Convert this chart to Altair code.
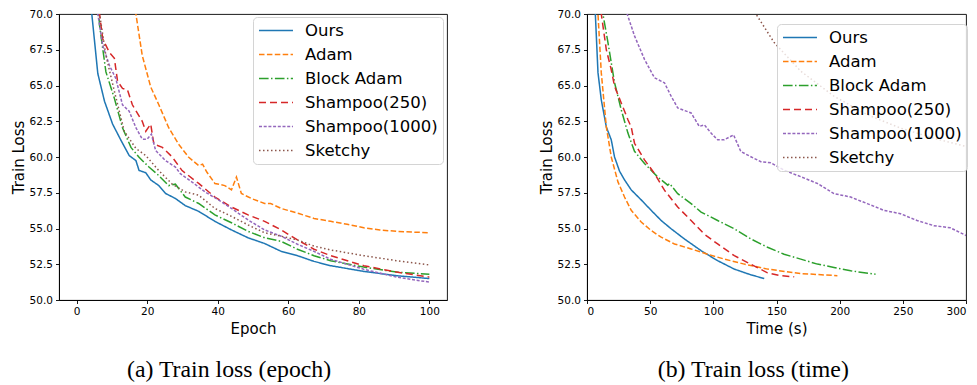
import altair as alt
import pandas as pd

methods = ["Ours", "Adam", "Block Adam", "Shampoo(250)", "Shampoo(1000)", "Sketchy"]
colors = ["#1f77b4", "#ff7f0e", "#2ca02c", "#d62728", "#9467bd", "#8c564b"]
dashes = [[1, 0], [5.5, 2.4], [9.6, 2.4, 1.5, 2.4], [7, 4], [3, 1.7], [1.5, 2.5]]

# ---------------- Panel (a): train loss vs epoch ----------------
ep_ours = [3, 4.3, 6.0, 7.9, 10.2, 12.5, 14.9, 16.8, 17.7, 19.6, 21, 23.3, 25.2, 28, 30.8, 34.6, 39.2, 43.9, 48.6, 53.3, 58, 62.6, 67.3, 72, 81.4, 90.7, 100]
ls_ours = [76, 70, 65.84, 63.9, 62.3, 61.2, 60.1, 59.75, 59.06, 58.9, 58.4, 58.0, 57.45, 57.1, 56.6, 56.2, 55.5, 54.9, 54.35, 53.95, 53.4, 53.1, 52.7, 52.4, 52.0, 51.7, 51.5]

ep_adam = [15, 16.8, 18.6, 21, 23.3, 26.1, 28.9, 31.7, 34.6, 35.7, 36.9, 39.2, 42, 43.9, 45.3, 46.7, 49.5, 53.3, 55, 58, 60.8, 63, 67.3, 72, 76.7, 81.4, 86, 90.7, 100]
ls_adam = [73, 70, 67.1, 64.9, 63.65, 62.05, 60.9, 60.0, 59.4, 59.5, 58.95, 58.15, 58.0, 57.7, 58.6, 57.45, 57.1, 56.75, 56.75, 56.4, 56.2, 56.05, 55.7, 55.5, 55.3, 55.05, 54.9, 54.8, 54.7]

ep_block = [5.5, 6.5, 8.3, 10.7, 13, 15.4, 17.7, 20.5, 23.3, 26.1, 28, 30.8, 34.6, 39.2, 43.9, 48.6, 53.3, 58, 62.6, 67.3, 72, 81.4, 90.7, 100]
ls_block = [73, 69.2, 65.95, 64.1, 62.05, 60.67, 59.98, 59.3, 58.7, 58.0, 58.1, 57.2, 56.75, 55.95, 55.4, 54.8, 54.35, 54.1, 53.55, 53.1, 52.75, 52.3, 51.95, 51.8]

ep_sh250 = [5.5, 6.5, 7.4, 9.3, 10.7, 11.6, 13, 14.4, 15.8, 18.6, 19.6, 21, 21.9, 24.3, 27.1, 29.9, 34.6, 39.2, 43.9, 48.6, 53.3, 58, 62.6, 67.3, 72, 81.4, 90.7, 100]
ls_sh250 = [74, 70, 68.25, 67.3, 66.9, 65.3, 64.8, 64.7, 63.65, 62.5, 61.8, 62.3, 60.9, 60.67, 60.0, 59.05, 58.15, 57.2, 56.5, 55.95, 55.5, 54.9, 54.2, 53.55, 53.1, 52.4, 51.95, 51.6]

ep_sh1000 = [5, 6, 7.4, 9.3, 11.1, 13, 14.9, 16.8, 18.6, 20, 21.2, 22.4, 25.2, 28, 29.4, 32.7, 36.4, 40.2, 43.9, 48.6, 53.3, 58, 62.6, 67.3, 72, 81.4, 90.7, 100]
ls_sh1000 = [74, 70, 67.8, 66.4, 65.5, 63.65, 63.2, 62.05, 61.25, 61.25, 61.6, 60.45, 59.75, 59.3, 58.83, 58.25, 57.56, 57.0, 56.4, 55.6, 54.9, 54.46, 53.9, 53.4, 52.85, 52.15, 51.6, 51.25]

ep_sketchy = [5.5, 6.5, 8.3, 10.7, 13.5, 16.8, 19.6, 23.3, 27.1, 30.8, 34.6, 39.2, 43.9, 48.6, 53.3, 58, 62.6, 67.3, 72, 81.4, 90.7, 100]
ls_sketchy = [74, 70, 67.1, 64.6, 61.8, 60.6, 60.1, 59.05, 58.1, 57.56, 57.33, 56.4, 55.85, 55.25, 54.7, 54.46, 54.2, 53.77, 53.5, 53.1, 52.75, 52.45]

# ---------------- Panel (b): train loss vs wall-clock time ----------------
t_ours = [5, 6.6, 8.7, 11.3, 15.3, 19.2, 21.8, 25.8, 29.7, 35, 42.9, 50.8, 58.7, 66.6, 77.1, 90.3, 103.4, 116.6, 129.7, 140.3]
lt_ours = [76, 70, 65.9, 64.0, 62.1, 61.2, 60.0, 59.0, 58.4, 57.7, 57.0, 56.27, 55.56, 54.98, 54.27, 53.45, 52.75, 52.16, 51.76, 51.5]

t_adam = [7, 8.7, 11.3, 15.3, 19.2, 24.5, 29.7, 35, 42.9, 50.8, 58.7, 69.2, 82.4, 95.5, 108.7, 124.5, 142.9, 169.2, 198.2]
lt_adam = [76, 70, 65.9, 62.1, 60.0, 58.26, 57.2, 56.27, 55.45, 54.86, 54.39, 53.92, 53.57, 53.2, 52.86, 52.51, 52.16, 51.85, 51.7]

t_block = [11, 12.6, 16.6, 21.8, 27.1, 32.4, 37.6, 45.5, 56, 63.9, 65.3, 71.8, 82.4, 90.3, 103.4, 116.6, 129.7, 142.9, 156, 169.2, 182.4, 195.5, 208.7, 228.4]
lt_block = [74, 70, 68.0, 65.2, 63.3, 61.67, 60.4, 59.55, 58.6, 58.03, 58.15, 57.44, 56.74, 56.15, 55.56, 54.98, 54.27, 53.69, 53.2, 52.86, 52.51, 52.28, 52.04, 51.8]

t_sh250 = [10, 11.3, 15.3, 19.2, 21.8, 27.1, 32.4, 35, 37.6, 45.5, 53.4, 61.3, 71.8, 82.4, 92.9, 103.4, 116.6, 129.7, 142.9, 153.4, 164]
lt_sh250 = [74, 70, 67.5, 66.1, 64.95, 63.78, 62.6, 62.1, 60.96, 59.8, 58.85, 57.68, 56.5, 55.56, 54.6, 53.92, 53.1, 52.5, 51.9, 51.7, 51.62]

t_sh1000 = [28, 31.8, 37.6, 45.5, 53.4, 61.3, 66.6, 71.8, 82.4, 88.9, 92.9, 98.2, 103.4, 108.7, 116, 121.8, 129.7, 137.6, 145.5, 156, 169.2, 182.4, 195.5, 208.7, 221.8, 235, 248.2, 261.3, 274.5, 287.6, 300.3, 310]
lt_sh1000 = [72, 70, 68.47, 66.83, 65.54, 65.19, 64.25, 63.43, 63.08, 62.14, 62.25, 61.67, 61.2, 61.2, 61.55, 60.38, 60.02, 59.67, 59.6, 59.08, 58.62, 58.15, 57.44, 57.2, 56.74, 56.27, 56.03, 55.56, 55.2, 55.05, 54.5, 54.2]

t_sketchy = [125, 133.7, 148.2, 169.2, 195.5, 221.8, 248.2, 274.5, 300.3, 320]
lt_sketchy = [72, 70, 68.0, 66.0, 64.25, 62.96, 62.02, 61.31, 60.73, 60.3]

y_ticks = [50, 52.5, 55, 57.5, 60, 62.5, 65, 67.5, 70]
epoch_ticks = [0, 20, 40, 60, 80, 100]
time_ticks = [0, 50, 100, 150, 200, 250, 300]


def frame(series):
    rows = []
    for name, xs, ys in series:
        for i, (a, b) in enumerate(zip(xs, ys)):
            rows.append({"method": name, "x": a, "loss": b, "i": i})
    return pd.DataFrame(rows)


df_a = frame([
    ("Ours", ep_ours, ls_ours), ("Adam", ep_adam, ls_adam), ("Block Adam", ep_block, ls_block),
    ("Shampoo(250)", ep_sh250, ls_sh250), ("Shampoo(1000)", ep_sh1000, ls_sh1000), ("Sketchy", ep_sketchy, ls_sketchy),
])
df_b = frame([
    ("Ours", t_ours, lt_ours), ("Adam", t_adam, lt_adam), ("Block Adam", t_block, lt_block),
    ("Shampoo(250)", t_sh250, lt_sh250), ("Shampoo(1000)", t_sh1000, lt_sh1000), ("Sketchy", t_sketchy, lt_sketchy),
])


def legend(lx, ly):
    return alt.Legend(
        title=None, orient="none", legendX=lx, legendY=ly,
        symbolType="M-1,0H3.53", symbolSize=225, symbolStrokeWidth=1.5,
        labelFont="DejaVu Sans", labelFontSize=16.5, labelColor="#000000",
        labelOffset=30, labelLimit=400, rowPadding=7, padding=5,
        fillColor="rgba(255,255,255,0.8)", strokeColor="#d4d4d4", cornerRadius=4,
    )


def panel(df, xdom, xticks, xtitle, caption, lx, ly, w):
    leg = legend(lx, ly)
    return alt.Chart(df).mark_line(strokeWidth=1.5, clip=True).encode(
        x=alt.X("x:Q", scale=alt.Scale(domain=xdom, nice=False, zero=False),
                axis=alt.Axis(values=xticks, title=xtitle, format="d")),
        y=alt.Y("loss:Q", scale=alt.Scale(domain=[50, 70], nice=False, zero=False),
                axis=alt.Axis(values=y_ticks, format=".1f", title="Train Loss")),
        color=alt.Color("method:N", scale=alt.Scale(domain=methods, range=colors), legend=leg),
        strokeDash=alt.StrokeDash("method:N", scale=alt.Scale(domain=methods, range=dashes), legend=leg),
        order="i:Q",
    ).properties(
        width=w, height=286,
        title=alt.TitleParams(caption, orient="bottom", anchor="middle", frame="bounds",
                              font="Liberation Serif", fontSize=23.8, fontWeight="normal",
                              color="#000000", offset=22),
    )


left = panel(df_a, [-5, 105], epoch_ticks, "Epoch", "(a) Train loss (epoch)", 194, 3, 388)
right = panel(df_b, [0, 300], time_ticks, "Time (s)", "(b) Train loss (time)", 190, 10, 379)

chart = alt.hconcat(left, right, spacing=90).resolve_scale(
    x="independent", y="independent", color="independent", strokeDash="independent"
).resolve_legend(color="independent", strokeDash="independent").properties(
    padding={"left": 2, "top": 0, "right": 0, "bottom": 0}
).configure_view(stroke="#000000", strokeWidth=0.9).configure_axis(
    grid=False, domainColor="#000000", domainWidth=0.9, tickColor="#000000", tickWidth=0.9,
    tickSize=3.5, labelFont="DejaVu Sans", labelFontSize=10.5, labelColor="#000000", labelPadding=3,
    titleFont="DejaVu Sans", titleFontSize=15, titleFontWeight="normal", titleColor="#000000",
    titlePadding=4,
).configure_axisY(labelPadding=3, titlePadding=3)

chart.save("out.html", embed_options={"renderer": "svg", "actions": False})
